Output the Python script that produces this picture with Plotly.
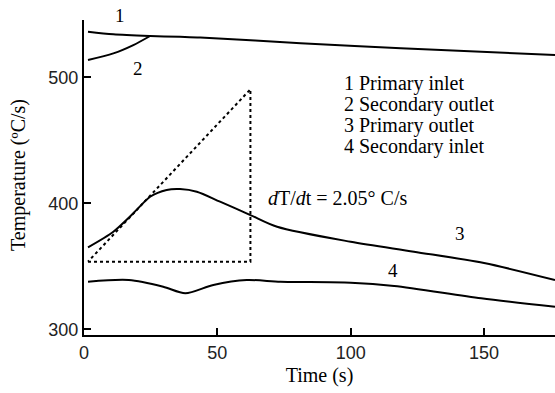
import plotly.graph_objects as go

# Data
t1 = [1.5, 11, 24.8, 36, 43.6, 81.2, 118.8, 176.6]
T1 = [536.2, 534.1, 532.8, 532.2, 531.7, 527.0, 523.0, 517.7]

t2 = [1.5, 11, 18.5, 24.8]
T2 = [513.7, 519.0, 525.6, 532.8]

t3 = [1.5, 11, 18.5, 24.8, 31, 36, 42.3, 51, 62.4, 72.4, 100, 123.7, 150, 176.6]
T3 = [365.1, 377.5, 392.1, 405.2, 410.6, 411.3, 409.2, 401.3, 390.7, 381.4, 369.5, 361.6, 352.6, 339.1]

t4 = [1.5, 16.8, 29.7, 38, 48.5, 61, 73.7, 100, 116.3, 148.9, 176.6]
T4 = [337.8, 339.1, 333.8, 328.6, 335.2, 339.1, 337.8, 337.0, 334.4, 324.6, 317.9]

tri_t = [1.5, 62.4, 62.4, 1.5]
tri_T = [353.7, 353.7, 490.5, 353.7]

curve_labels = ["1", "2", "3", "4"]
curve_label_t = [13.5, 20.4, 141, 116]
curve_label_T = [549.4, 507.1, 376.4, 347.0]

legend_lines = ["1 Primary inlet", "2 Secondary outlet", "3 Primary outlet", "4 Secondary inlet"]
legend_T = [495.0, 478.6, 462.0, 444.8]
legend_t = 96.6

x_ticks = [0, 50, 100, 150]
y_ticks = [300, 400, 500]
x_range = [0, 176.6]
y_range = [295.5, 545.5]

serif = "Liberation Serif, Times New Roman, serif"
sans = "Liberation Sans, Arial, sans-serif"

fig = go.Figure()
line = dict(color="black", width=2, shape="spline", smoothing=0.8)
for tx, ty in [(t1, T1), (t2, T2), (t3, T3), (t4, T4)]:
    fig.add_trace(go.Scatter(x=tx, y=ty, mode="lines", line=line, showlegend=False, hoverinfo="skip"))

fig.add_trace(go.Scatter(x=tri_t, y=tri_T, mode="lines",
                         line=dict(color="black", width=2, dash="dot"),
                         showlegend=False, hoverinfo="skip"))

for lab, xx, yy in zip(curve_labels, curve_label_t, curve_label_T):
    if yy > y_range[1]:
        # label sits above the plotting area: place it in paper coordinates
        fig.add_annotation(x=xx, xref="x", yref="paper",
                           y=(yy - y_range[0]) / (y_range[1] - y_range[0]),
                           xanchor="center", yanchor="middle",
                           text=lab, showarrow=False,
                           font=dict(family=serif, size=19, color="black"))
    else:
        fig.add_annotation(x=xx, y=yy, text=lab, showarrow=False,
                           xanchor="center", yanchor="middle",
                           font=dict(family=serif, size=19, color="black"))

for txt, yy in zip(legend_lines, legend_T):
    fig.add_annotation(x=legend_t, y=yy, text=txt, showarrow=False, xanchor="left",
                       yanchor="middle",
                       font=dict(family=serif, size=20, color="black"))

fig.add_annotation(x=68.4, y=404.2, text="<i>d</i>T/<i>d</i>t = 2.05° C/s", showarrow=False,
                   xanchor="left", yanchor="middle",
                   font=dict(family=serif, size=20, color="black"))

# y-axis title placed as rotated text to match the reference position
fig.add_annotation(x=-0.138, y=0.508, xref="paper", yref="paper", text="Temperature (ºC/s)",
                   textangle=-90, showarrow=False, xanchor="center", yanchor="middle",
                   font=dict(family=serif, size=20, color="black"))

fig.update_layout(
    width=555, height=393,
    margin=dict(l=84, r=0, t=20, b=58),
    paper_bgcolor="white", plot_bgcolor="white",
    xaxis=dict(range=x_range, tickvals=x_ticks, ticks="inside", ticklen=7, tickwidth=2,
               tickcolor="black", showline=True, linecolor="black", linewidth=2,
               showgrid=False, zeroline=False,
               tickfont=dict(family=sans, size=18, color="#222"),
               title=dict(text="Time (s)", font=dict(family=serif, size=20, color="black"), standoff=6)),
    yaxis=dict(range=y_range, tickvals=y_ticks, ticks="inside", ticklen=7, tickwidth=2,
               tickcolor="black", showline=True, linecolor="black", linewidth=2,
               showgrid=False, zeroline=False,
               tickfont=dict(family=sans, size=18, color="#222")),
)

fig.write_html("out.html")
